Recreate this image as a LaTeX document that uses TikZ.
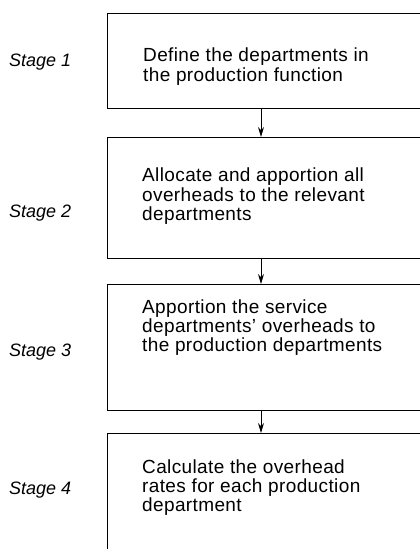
\documentclass[tikz,border=0pt]{standalone}
\usepackage{fontspec}
\setmainfont{Liberation Sans}
\usetikzlibrary{arrows.meta}
\begin{document}
\begin{tikzpicture}[x=1pt,y=-1pt,
  box/.style={draw, line width=1pt, rectangle, anchor=north west, inner sep=0pt, minimum width=330pt},
  txt/.style={anchor=base west, inner sep=0pt, font=\fontsize{19}{20}\selectfont\addfontfeatures{LetterSpace=2}},
  stg/.style={anchor=base west, inner sep=0pt, font=\fontsize{18}{19}\selectfont\itshape},
  arr/.style={-{Stealth[length=10pt,width=6pt]}, line width=1pt}]
\useasboundingbox (0,0) rectangle (420,549);
\clip (0,0) rectangle (420,549);
% boxes
\node[box, minimum height=95pt] (b1) at (107,13) {};
\node[box, minimum height=121pt] (b2) at (107,137) {};
\node[box, minimum height=126pt] (b3) at (107,284) {};
\node[box, minimum height=140pt] (b4) at (107,433) {};
% arrow axis
\coordinate (ax) at (261,0);
\draw[arr] (b1.south -| ax) -- (b2.north -| ax);
\draw[arr] (b2.south -| ax) -- (b3.north -| ax);
\draw[arr] (b3.south -| ax) -- (b4.north -| ax);
% stage labels
\node[stg] (s1) at (9,66.7) {Stage 1};
\node[stg] (s2) at (9,217.7) {Stage 2};
\node[stg] (s3) at (9,356.7) {Stage 3};
\node[stg] (s4) at (9,494.7) {Stage 4};
% box texts
\node[txt] (t1a) at (143,61.7) {Define the departments in};
\node[txt] (t1b) at (143,81) {the production function};
\node[txt] (t2a) at (142,181.8) {Allocate and apportion all};
\node[txt] (t2b) at (142,201) {overheads to the relevant};
\node[txt] (t2c) at (142,220.2) {departments};
\node[txt] (t3a) at (142,313) {Apportion the service};
\node[txt] (t3b) at (142,332.2) {departments’ overheads to};
\node[txt] (t3c) at (142,351.4) {the production departments};
\node[txt] (t4a) at (142,473.3) {Calculate the overhead};
\node[txt] (t4b) at (142,492.5) {rates for each production};
\node[txt] (t4c) at (142,511.7) {department};
\end{tikzpicture}
\end{document}
